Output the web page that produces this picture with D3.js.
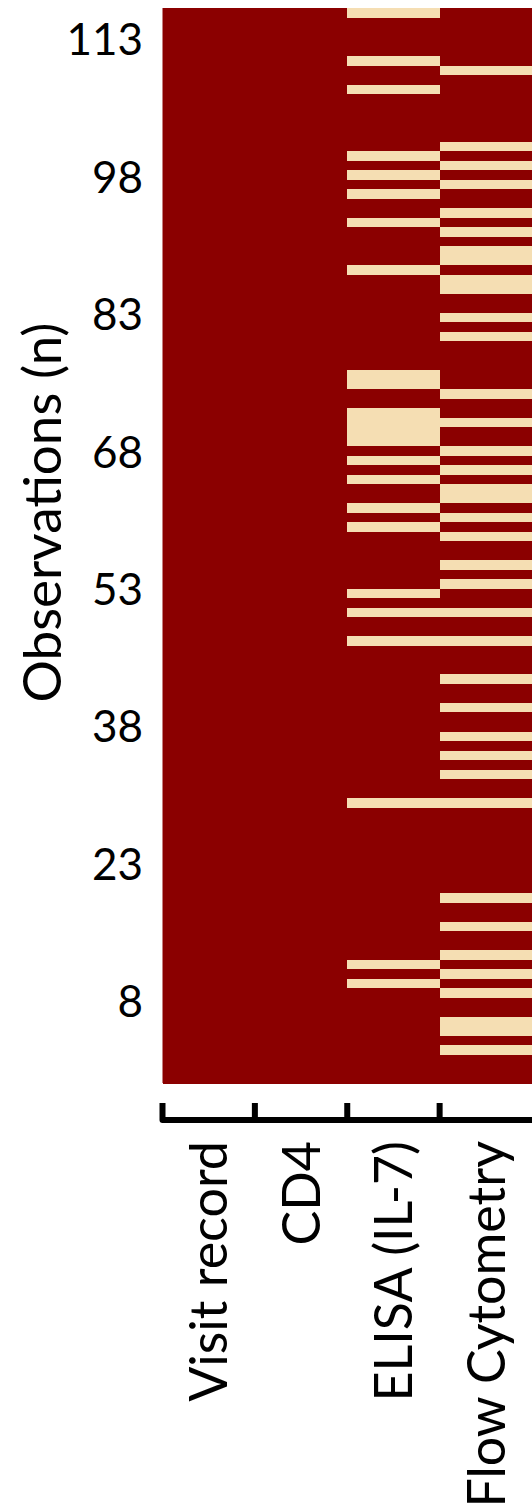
<!DOCTYPE html>
<html>
<head>
<meta charset="utf-8">
<script src="https://cdn.jsdelivr.net/npm/d3@7"></script>
<style>
  html, body { margin: 0; padding: 0; background: #ffffff; }
  svg { display: block; }
</style>
</head>
<body>
<script>
// Data completeness per observation: which measurements are missing.
const columns = ["Visit record", "CD4", "ELISA (IL-7)", "Flow Cytometry"];
const observationCount = 113;
const visitMissing = [];
const cd4Missing = [];
const elisaMissing = [113, 108, 105, 98, 96, 94, 91, 86, 75, 74, 71, 70, 69, 68, 66, 64,
                      61, 59, 52, 50, 47, 30, 13, 11];
const flowMissing = [107, 99, 97, 95, 92, 90, 88, 87, 85, 84, 81, 79, 73, 70, 67, 65, 63,
                     62, 60, 58, 55, 53, 50, 47, 43, 40, 37, 35, 33, 30, 20, 17, 14, 12, 10,
                     7, 6, 4];
const yTickValues = [8, 23, 38, 53, 68, 83, 98, 113];
const yTitle = "Observations (n)";

const missingByColumn = new Map([
  [columns[0], new Set(visitMissing)],
  [columns[1], new Set(cd4Missing)],
  [columns[2], new Set(elisaMissing)],
  [columns[3], new Set(flowMissing)]
]);

const W = 532, H = 1511;
const plot = { left: 162.5, right: 532, top: 8, bottom: 1083 };
const PRESENT = "#8b0000", MISSING = "#f5deb3";
const FONT = "Lato, 'Open Sans', sans-serif";

const svg = d3.select("body").append("svg")
  .attr("width", W).attr("height", H)
  .attr("viewBox", `0 0 ${W} ${H}`);

const observations = d3.range(1, observationCount + 1);

const x = d3.scaleBand().domain(columns).range([plot.left, plot.right]);
const y = d3.scaleBand().domain(observations).range([plot.bottom, plot.top]);
// value axis for the observation count labels
const yAxisScale = d3.scaleLinear().domain([-1, 116.4]).range([plot.bottom, plot.top]);

const cells = [];
columns.forEach(c => observations.forEach(o => {
  cells.push({ column: c, obs: o, missing: missingByColumn.get(c).has(o) });
}));

// backing so adjacent cells show no seams
svg.append("rect")
  .attr("x", x.range()[0]).attr("y", y.range()[1])
  .attr("width", x.range()[1] - x.range()[0])
  .attr("height", y.range()[0] - y.range()[1])
  .attr("fill", PRESENT);

svg.append("g")
  .attr("shape-rendering", "crispEdges")
  .selectAll("rect")
  .data(cells)
  .join("rect")
  .attr("x", d => x(d.column))
  .attr("y", d => y(d.obs))
  .attr("width", x.bandwidth() + 0.5)
  .attr("height", y.bandwidth() + 0.5)
  .attr("fill", d => d.missing ? MISSING : PRESENT);

// y tick labels
const yAxis = d3.axisLeft(yAxisScale).tickValues(yTickValues).tickSize(0).tickPadding(0);
const gy = svg.append("g").attr("transform", `translate(143,0)`).call(yAxis);
gy.select(".domain").remove();
gy.selectAll("text")
  .attr("font-family", FONT)
  .attr("font-size", 44)
  .attr("fill", "#000")
  .attr("dy", "0.36em");

// y title
svg.append("text")
  .attr("transform", `translate(61,${(325 + 700) / 2}) rotate(-90)`)
  .attr("text-anchor", "middle")
  .attr("font-family", FONT)
  .attr("font-size", 53)
  .attr("fill", "#000")
  .text(yTitle);

// category bracket under the columns
const bracketY = 1120, bracketTop = 1103;
const g = svg.append("g").attr("stroke", "#000").attr("stroke-width", 6).attr("fill", "none");
g.append("path")
  .attr("d", `M${x(columns[0])},${bracketTop}V${bracketY}H${W + 10}`)
  .attr("stroke-linejoin", "round");
g.selectAll("line.tick")
  .data(columns.slice(1))
  .join("line")
  .attr("class", "tick")
  .attr("x1", d => x(d)).attr("x2", d => x(d))
  .attr("y1", bracketTop).attr("y2", bracketY);

// column labels, rotated
const labelSize = 52;
svg.append("g").selectAll("text")
  .data(columns)
  .join("text")
  .attr("transform", d => `translate(${x(d) + x.bandwidth() / 2 + labelSize * 0.36},1141) rotate(-90)`)
  .attr("text-anchor", "end")
  .attr("font-family", FONT)
  .attr("font-size", labelSize)
  .attr("fill", "#000")
  .text(d => d);
</script>
</body>
</html>
